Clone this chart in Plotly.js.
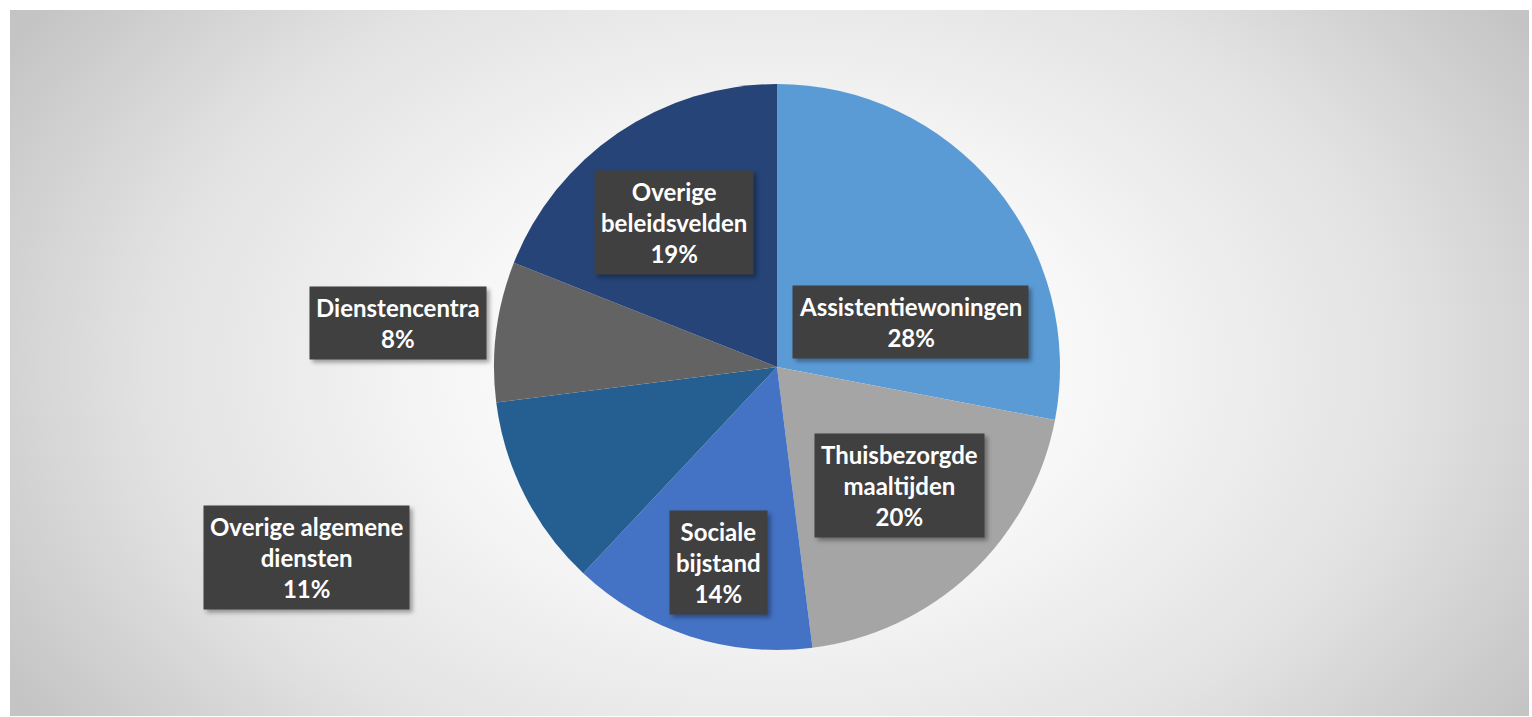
<!DOCTYPE html>
<html>
<head>
<meta charset="utf-8">
<script src="https://cdn.plot.ly/plotly-3.0.1.min.js"></script>
<style>
  html, body { margin: 0; padding: 0; background: #ffffff; width: 1532px; height: 717px; overflow: hidden; }
  #bg { position: absolute; left: 10px; top: 10px; width: 1519px; height: 706px;
        background: radial-gradient(ellipse 900px 620px at 767px 357px, #ffffff 0%, #f7f7f7 35%, #e2e2e2 70%, #c4c4c4 100%); }
  #chart { position: absolute; left: 0; top: 0; width: 1532px; height: 717px; }
  #chart .annotation rect.bg { filter: drop-shadow(3px 3px 2px rgba(0,0,0,0.35)); }
</style>
</head>
<body>
<div id="bg"></div>
<div id="chart"></div>
<script>
// Data
const categories = ["Assistentiewoningen", "Thuisbezorgde maaltijden", "Sociale bijstand", "Overige algemene diensten", "Dienstencentra", "Overige beleidsvelden"];
const values = [28, 20, 14, 11, 8, 19];
const labelTexts = ["Assistentiewoningen<br>28%", "Thuisbezorgde<br>maaltijden<br>20%", "Sociale<br>bijstand<br>14%", "Overige algemene<br>diensten<br>11%", "Dienstencentra<br>8%", "Overige<br>beleidsvelden<br>19%"];

// Styles / positions (kept separate from data)
const colors = ["#5B9BD5", "#A5A5A5", "#4472C4", "#255E91", "#636363", "#264478"];
const labelPx = [[910, 322], [899, 485], [718, 562], [306, 557], [398, 323], [674, 222]];
const W = 1532, H = 717;

const trace = {
  type: "pie",
  labels: categories,
  values: values,
  sort: false,
  direction: "clockwise",
  rotation: 0,
  textinfo: "none",
  hoverinfo: "label+percent",
  marker: { colors: colors, line: { width: 0 } },
  domain: { x: [494 / W, 1060 / W], y: [(H - 650) / H, (H - 84) / H] },
  showlegend: false
};

const annotations = labelPx.map(function (p, i) {
  return {
    xref: "paper", yref: "paper", x: p[0] / W, y: 1 - p[1] / H,
    xanchor: "center", yanchor: "middle", showarrow: false,
    borderpad: 6, align: "center",
    text: "<b>" + labelTexts[i].split("<br>").join("</b><br><b>") + "</b>",
    bgcolor: "#404040",
    font: { family: "Lato, 'Open Sans', sans-serif", size: 24, color: "#ffffff" }
  };
});

const layout = {
  width: W, height: H,
  margin: { l: 0, r: 0, t: 0, b: 0 },
  paper_bgcolor: "rgba(0,0,0,0)",
  plot_bgcolor: "rgba(0,0,0,0)",
  annotations: annotations
};

Plotly.newPlot("chart", [trace], layout, { displayModeBar: false, staticPlot: true });
</script>
</body>
</html>
